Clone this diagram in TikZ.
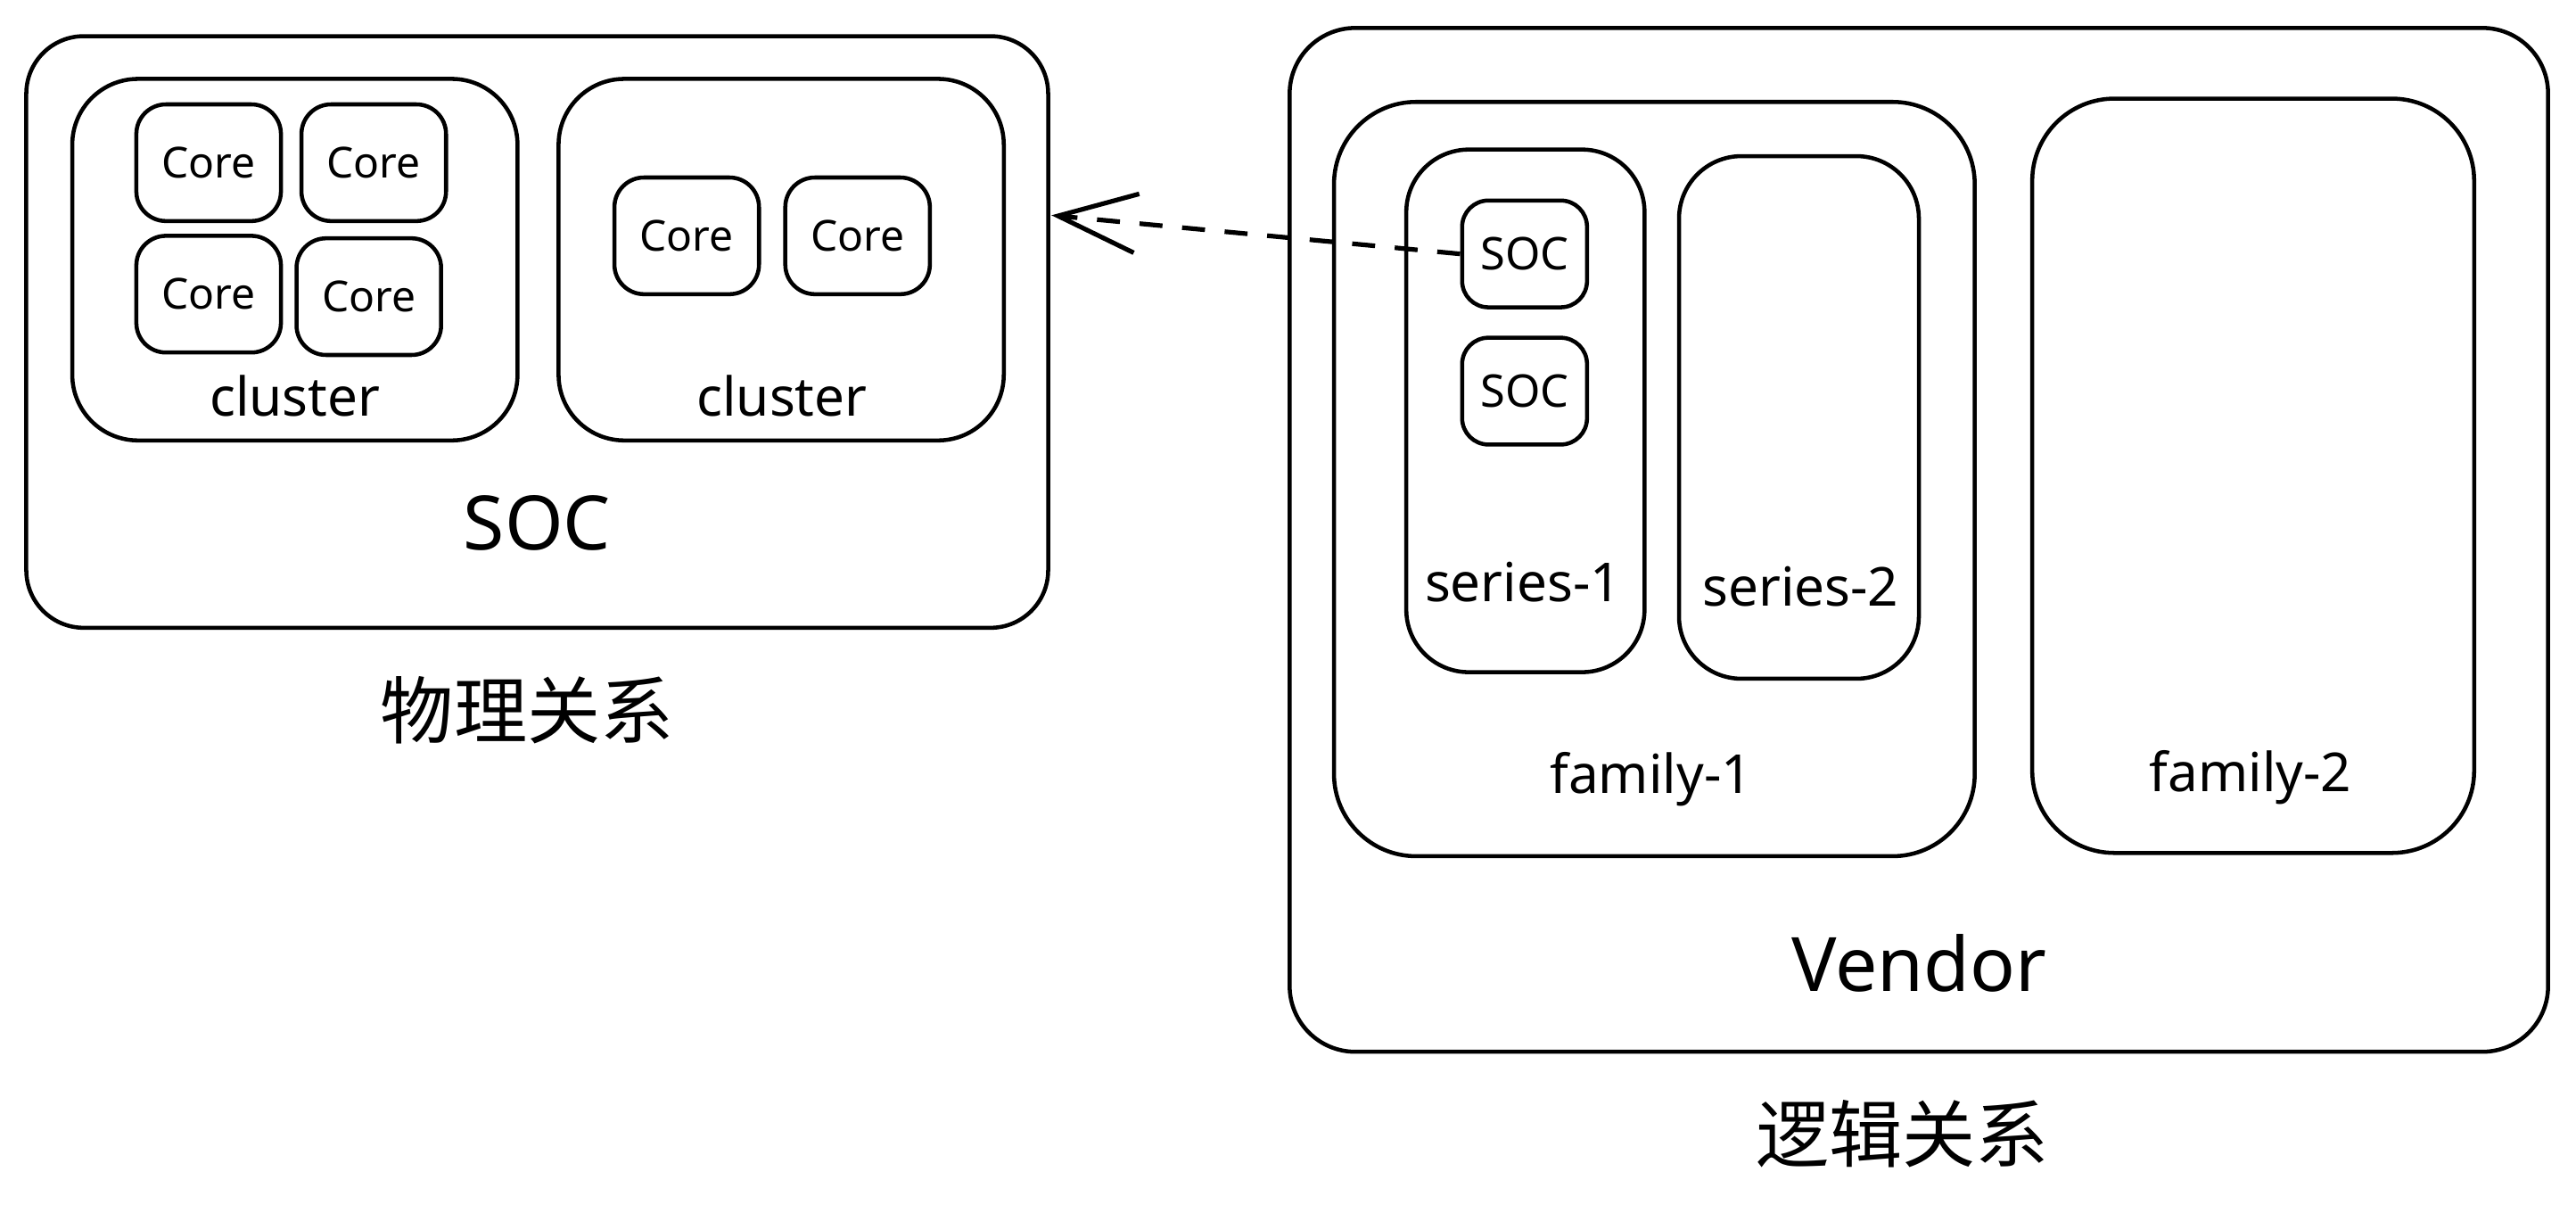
\documentclass[tikz,border=0pt]{standalone}
\usepackage{fontspec}
\setmainfont{Noto Sans}
\newfontfamily\cjk{Noto Sans CJK SC}
\usetikzlibrary{arrows.meta}

\tikzset{
  box/.style={draw,rounded corners=3.5mm,inner sep=0pt,line width=.7pt},
  corebox/.style={box,rounded corners=1.8mm,minimum width=8.8mm,minimum height=7.1mm,font=\fontsize{7.4}{8}\selectfont},
  socsmall/.style={box,rounded corners=1.6mm,minimum width=7.6mm,minimum height=6.5mm,font=\fontsize{7.8}{8}\selectfont},
  lbl/.style={inner sep=0pt,font=\fontsize{9.3}{10}\selectfont},
  biglbl/.style={inner sep=0pt,font=\fontsize{13}{14}\selectfont},
  cjklbl/.style={inner sep=0pt,font=\cjk\fontsize{12.7}{14}\selectfont}
}

\begin{document}
\begin{tikzpicture}[x=1mm,y=-1mm]
  \useasboundingbox (0,0) rectangle (156.8,73.3);
  % physical side
  \node[box,minimum width=62.2mm,minimum height=36mm] (socbox) at (32.7,20.2) {};
  \node[box,rounded corners=4mm,minimum width=27.1mm,minimum height=22mm] (clA) at (17.95,15.8) {};
  \node[box,rounded corners=4mm,minimum width=27.1mm,minimum height=22mm] (clB) at (47.55,15.8) {};
  \node[corebox] (c11) at (12.7,9.9) {Core};
  \node[corebox] (c12) at (22.75,9.9) {Core};
  \node[corebox] (c21) at (12.7,17.9) {Core};
  \node[corebox] (c22) at (22.45,18.05) {Core};
  \node[corebox] (c31) at (41.8,14.35) {Core};
  \node[corebox] (c32) at (52.2,14.35) {Core};
  \node[lbl] (clAlbl) at (17.95,24.1) {cluster};
  \node[lbl] (clBlbl) at (47.6,24.1) {cluster};
  \node[biglbl] (soclbl) at (32.7,31.8) {SOC};
  \node[cjklbl] (phys) at (32.1,43.2) {物理关系};

  % logical side
  \node[box,rounded corners=4mm,minimum width=76.6mm,minimum height=62.3mm] (vendor) at (116.8,32.85) {};
  \node[box,rounded corners=5mm,minimum width=39mm,minimum height=45.9mm] (fam1) at (100.7,29.15) {};
  \node[box,rounded corners=5mm,minimum width=26.9mm,minimum height=45.9mm] (fam2) at (137.15,28.95) {};
  \node[box,rounded corners=3.8mm,minimum width=14.5mm,minimum height=31.8mm] (ser1) at (92.85,25.0) {};
  \node[box,rounded corners=3.8mm,minimum width=14.6mm,minimum height=31.8mm] (ser2) at (109.5,25.4) {};
  \node[socsmall] (soc1) at (92.8,15.45) {SOC};
  \node[socsmall] (soc2) at (92.8,23.8) {SOC};
  \node[lbl] (ser1lbl) at (92.7,35.4) {series-1};
  \node[lbl] (ser2lbl) at (109.6,35.7) {series-2};
  \node[lbl] (fam1lbl) at (100.5,47.4) {family-1};
  \node[lbl] (fam2lbl) at (137.0,47.3) {family-2};
  \node[biglbl] (vendlbl) at (116.8,58.6) {Vendor};
  \node[cjklbl] (logic) at (115.8,69.0) {逻辑关系};

  % soc maps back to the physical soc
  \coordinate (hit) at (64.0,13.1);
  \draw[line width=.8pt,dash pattern=on 1.4mm off 1.2mm,
    -{Straight Barb[length=4.8mm,width=3.6mm,line width=.8pt]}] (soc1.west) -- (hit);
\end{tikzpicture}
\end{document}
